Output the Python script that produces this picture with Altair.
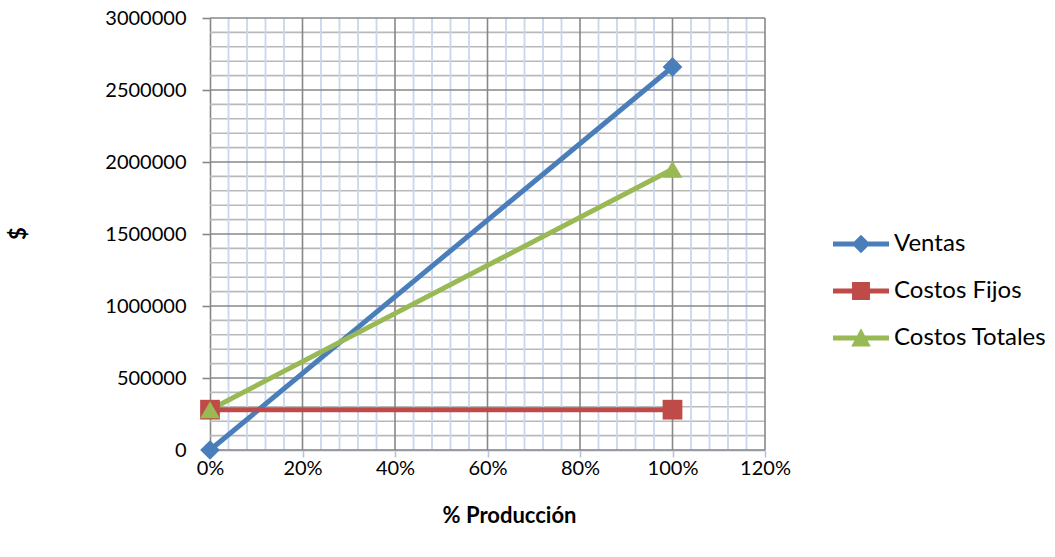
import altair as alt
import pandas as pd

# Break-even chart: sales vs. fixed and total costs by production level
produccion = [0.0, 1.0]
ventas = [0, 2660000]
costos_fijos = [280000, 280000]
costos_totales = [280000, 1950000]

series = ["Ventas", "Costos Fijos", "Costos Totales"]
colores = ["#4a7ebb", "#be4b48", "#98b954"]
marcadores = ["diamond", "square", "triangle-up"]

# legend symbols: a short line with the marker in the middle
simbolos_leyenda = [
    "M-2,-0.18H2V0.18H-2Z M0,-0.66L0.66,0L0,0.66L-0.66,0Z",
    "M-2,-0.18H2V0.18H-2Z M-0.64,-0.64H0.64V0.64H-0.64Z",
    "M-2,-0.18H2V0.18H-2Z M0,-0.7L0.7,0.6H-0.7Z",
]

y_major = [0, 500000, 1000000, 1500000, 2000000, 2500000, 3000000]
x_major = [0.0, 0.2, 0.4, 0.6, 0.8, 1.0, 1.2]
y_minor = [v for v in range(0, 3000001, 100000) if v % 500000 != 0]
x_minor = [round(v * 0.04, 2) for v in range(31) if v % 5 != 0]

filas = []
for nombre, valores in zip(series, [ventas, costos_fijos, costos_totales]):
    for p, v in zip(produccion, valores):
        filas.append({"produccion": p, "valor": v, "serie": nombre})
df = pd.DataFrame(filas)

FONT = "Lato"

x_scale = alt.Scale(domain=[0, 1.2], nice=False, zero=False)
y_scale = alt.Scale(domain=[0, 3000000], nice=False)

# grid lines
g_ymin = alt.Chart(pd.DataFrame({"v": y_minor})).mark_rule(
    color="#b9b9b9", strokeWidth=1.6
).encode(y=alt.Y("v:Q", scale=y_scale))
g_xmin = alt.Chart(pd.DataFrame({"v": x_minor})).mark_rule(
    color="#c9d6ee", strokeWidth=1.8
).encode(x=alt.X("v:Q", scale=x_scale))
g_ymaj = alt.Chart(pd.DataFrame({"v": y_major})).mark_rule(
    color="#878787", strokeWidth=1.6
).encode(y=alt.Y("v:Q", scale=y_scale))
g_xmaj = alt.Chart(pd.DataFrame({"v": x_major[1:]})).mark_rule(
    color="#878787", strokeWidth=1.6
).encode(x=alt.X("v:Q", scale=x_scale))

base = alt.Chart(df)

x_enc = alt.X(
    "produccion:Q",
    scale=x_scale,
    axis=alt.Axis(
        values=x_major,
        format=".0%",
        title="% Producción",
        grid=False,
        labelFlush=False,
        domainColor="#c3d0e8",
        domainWidth=2,
        tickColor="#b8c4d8",
        tickWidth=1.6,
        tickSize=7,
        labelPadding=1,
        labelFont=FONT,
        labelFontSize=20,
        labelColor="#000000",
        titleFont=FONT,
        titleFontSize=22,
        titleFontWeight="bold",
        titleColor="#000000",
        titleX=299,
        titleY=65,
        titleBaseline="middle",
        titleAlign="center",
    ),
)
y_enc = alt.Y(
    "valor:Q",
    scale=y_scale,
    axis=alt.Axis(
        values=y_major,
        format="d",
        title="$",
        grid=False,
        labelFlush=False,
        domainColor="#878787",
        domainWidth=1.6,
        tickColor="#878787",
        tickWidth=1.6,
        tickSize=8,
        labelPadding=16,
        labelFont=FONT,
        labelFontSize=20,
        labelColor="#000000",
        titleFont=FONT,
        titleFontSize=22,
        titleFontWeight="bold",
        titleColor="#000000",
        titleAngle=270,
        titleX=-192,
        titleY=215,
        titleBaseline="middle",
        titleAlign="center",
    ),
)

# one line + marker layer pair per series, each with its own colour and shape
capas = []
for i, (nombre, color) in enumerate(zip(series, colores)):
    datos = base.transform_filter(alt.datum.serie == nombre)
    if i == 0:
        enc = dict(x=x_enc, y=y_enc)
    else:
        enc = dict(x="produccion:Q", y="valor:Q")
    capas.append(datos.mark_line(strokeWidth=5, color=color).encode(**enc))
for nombre, color, forma in zip(series, colores, marcadores):
    capas.append(
        base.transform_filter(alt.datum.serie == nombre)
        .mark_point(filled=True, opacity=1, size=390, shape=forma, color=color)
        .encode(x="produccion:Q", y="valor:Q")
    )

leyenda_cfg = dict(
    title=None,
    orient="none",
    legendX=637,
    legendY=212,
    symbolSize=784,
    symbolStrokeWidth=0,
    symbolOpacity=1,
    labelOffset=19,
    labelFont=FONT,
    labelFontSize=24,
    labelColor="#000000",
    rowPadding=21,
    padding=0,
)

# legend source: fill + shape scales on a layer that draws no marks
leyenda = (
    base.transform_filter("false")
    .mark_point(filled=True, opacity=1)
    .encode(
        x="produccion:Q",
        y="valor:Q",
        fill=alt.Fill(
            "serie:N",
            scale=alt.Scale(domain=series, range=colores),
            legend=alt.Legend(**leyenda_cfg),
        ),
        shape=alt.Shape(
            "serie:N",
            scale=alt.Scale(domain=series, range=simbolos_leyenda),
            legend=alt.Legend(**leyenda_cfg),
        ),
    )
)

chart = (
    alt.layer(g_ymin, g_xmin, g_ymaj, g_xmaj, *capas, leyenda)
    .properties(
        width=555,
        height=432,
        autosize=alt.AutoSizeParams(type="none"),
        padding={"left": 210, "top": 18, "right": 290, "bottom": 107},
        background="#ffffff",
    )
    .configure_view(stroke=None)
)

chart.save("out.html", embed_options={"renderer": "svg", "actions": False})
